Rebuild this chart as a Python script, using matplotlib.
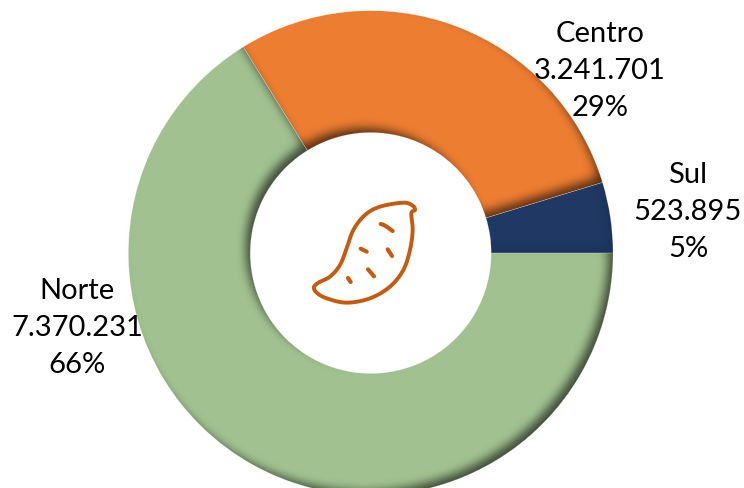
import numpy as np
import matplotlib
matplotlib.use("Agg")
import matplotlib.pyplot as plt
from matplotlib.patches import Wedge

# Data
regions = ["Sul", "Centro", "Norte"]
values = [523895, 3241701, 7370231]
percent_labels = ["5%", "29%", "66%"]

# Style
colors = ["#1F3864", "#ED7D31", "#A1C290"]
shadow_strength = [0.12, 0.62, 0.62]
label_pos = [(688, 212), (600, 71), (77, 328)]
W, H = 744, 488
CX, CY = 370.7, H - 253.0
R_OUT, R_IN = 242.3, 120.5
ICON = "#C55A11"

plt.rcParams["font.family"] = ["Lato", "DejaVu Sans"]
fig = plt.figure(figsize=(W / 100, H / 100), dpi=100)
ax = fig.add_axes([0, 0, 1, 1])

wedges, _ = ax.pie(
    values, colors=colors, startangle=0, counterclock=True,
    center=(CX, CY), radius=R_OUT, frame=True,
    wedgeprops=dict(width=R_OUT - R_IN, edgecolor="none", linewidth=0),
)

# Inner shadow of each ring segment, built from the wedge's own angles
PAD = 40
xs = np.arange(-PAD, W + PAD) + 0.5
ys = np.arange(-PAD, H + PAD) + 0.5
OFF = 6.5
SIGMA = 5.5
kx = np.arange(-20, 21)
kernel = np.exp(-kx ** 2 / (2 * SIGMA ** 2))
kernel /= kernel.sum()


def inside(xx, yy, a0, a1):
    dx, dy = xx - CX, yy - CY
    r = np.hypot(dx, dy)
    th = np.degrees(np.arctan2(dy, dx)) % 360
    return (r <= R_OUT) & (r >= R_IN) & (th >= a0) & (th <= a1)


def coverage(xx, yy, a0, a1):
    dx, dy = xx - CX, yy - CY
    r = np.hypot(dx, dy)
    th = np.degrees(np.arctan2(dy, dx)) % 360
    c = np.clip(R_OUT - r + 0.5, 0, 1) * np.clip(r - R_IN + 0.5, 0, 1)
    c = c * np.clip(np.radians(th - a0) * r + 0.5, 0, 1) * np.clip(np.radians(a1 - th) * r + 0.5, 0, 1)
    return c


XX, YY = np.meshgrid(xs, ys)
for w, strength in zip(wedges, shadow_strength):
    m = inside(XX + OFF, YY - OFF, w.theta1, w.theta2).astype(float)
    out = 1 - m
    out = np.apply_along_axis(lambda v: np.convolve(v, kernel, mode="same"), 0, out)
    out = np.apply_along_axis(lambda v: np.convolve(v, kernel, mode="same"), 1, out)
    rgba = np.zeros(out.shape + (4,))
    rgba[..., 3] = np.clip(out, 0, 1) ** 1.6 * strength * coverage(XX, YY, w.theta1, w.theta2)
    ax.imshow(rgba, origin="lower", extent=(xs[0] - .5, xs[-1] + .5, ys[0] - .5, ys[-1] + .5),
              interpolation="nearest", zorder=3)

# Hairlines between the segments
for w in wedges:
    ax.add_patch(Wedge((CX, CY), R_OUT, w.theta1, w.theta2, width=R_OUT - R_IN,
                       facecolor="none", edgecolor="#FFFFFF", linewidth=0.3, alpha=0.4, zorder=3.5))

# Labels
for name, val, pct, (lx, ly) in zip(regions, values, percent_labels, label_pos):
    txt = f"{val:,}".replace(",", ".")
    ax.text(lx, H - ly, f"{name}\n{txt}\n{pct}", ha="center", va="center",
            fontsize=21, color="black", linespacing=1.52, zorder=5)


# Sweet potato icon in the hole (reference zoom coordinates -> pixels)
def to_xy(pts):
    p = np.array(pts, float)
    return 290 + p[:, 0] / 3, H - (180 + p[:, 1] / 3)


def smooth(pts, closed=False, n=12):
    p = np.array(pts, float)
    if closed:
        p = np.vstack([p[-1], p, p[0], p[1]])
    else:
        p = np.vstack([p[0], p, p[-1]])
    res = []
    for i in range(1, len(p) - 2):
        t = np.linspace(0, 1, n, endpoint=False)[:, None]
        a, b, c, d = p[i - 1], p[i], p[i + 1], p[i + 2]
        res.append(0.5 * (2 * b + (c - a) * t + (2 * a - 5 * b + 4 * c - d) * t ** 2
                          + (3 * b - a - 3 * c + d) * t ** 3))
    res.append(p[-2][None, :])
    return np.vstack(res)


outline = [(72, 322), (85, 308), (120, 290), (150, 255), (170, 205), (190, 150), (225, 105),
           (270, 80), (340, 68), (368, 77), (375, 90), (364, 100), (368, 150), (360, 210),
           (340, 270), (300, 320), (240, 355), (170, 368), (110, 355), (80, 338)]
spots = [[(272, 132), (285, 137), (308, 153)], [(212, 206), (230, 215)], [(293, 208), (306, 228)],
         [(234, 268), (252, 289)], [(174, 294), (182, 306)]]
x, y = to_xy(smooth(outline, closed=True))
ax.plot(x, y, color=ICON, lw=2.8, solid_capstyle="round", solid_joinstyle="round", zorder=4)
for s in spots:
    x, y = to_xy(smooth(s))
    ax.plot(x, y, color=ICON, lw=3.0, solid_capstyle="round", zorder=4)

ax.set_xlim(0, W)
ax.set_ylim(0, H)
ax.set_aspect("equal")
ax.axis("off")
fig.savefig("out.png", dpi=100, facecolor="white")
